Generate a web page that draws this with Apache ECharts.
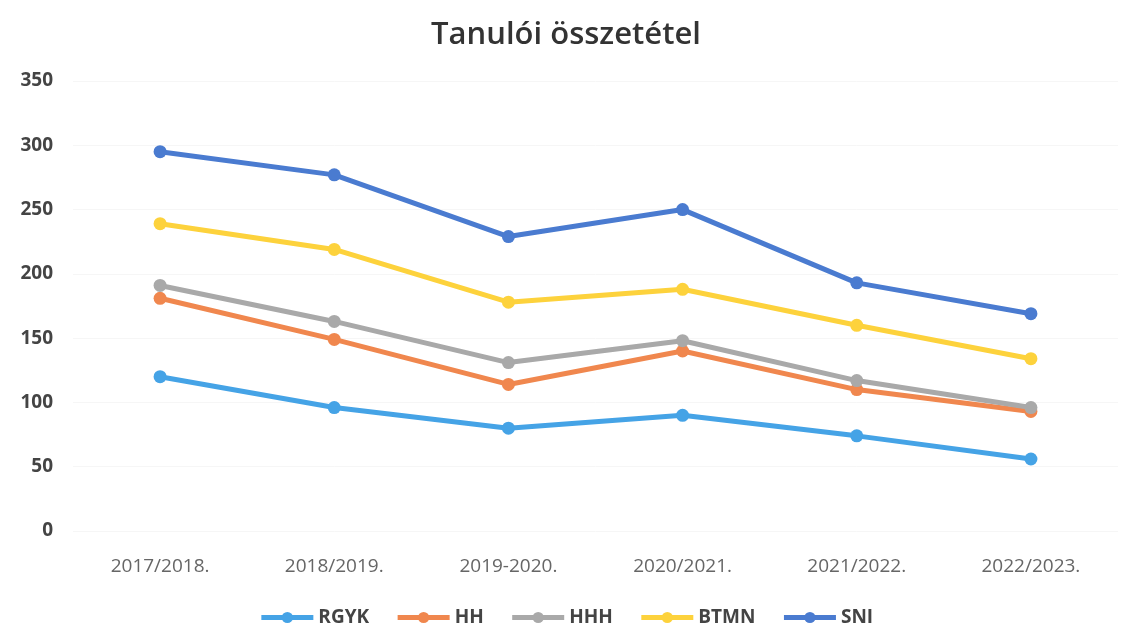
<!DOCTYPE html>
<html><head><meta charset="utf-8">
<script src="https://cdn.jsdelivr.net/npm/echarts@6/dist/echarts.min.js"></script>
<style>html,body{margin:0;padding:0;background:#fff}#c{width:1132px;height:627px}</style>
</head><body><div id="c"></div>
<script>
const categories = ['2017/2018.', '2018/2019.', '2019-2020.', '2020/2021.', '2021/2022.', '2022/2023.'];
const seriesNames = ['RGYK', 'HH', 'HHH', 'BTMN', 'SNI'];
const RGYK = [120, 96, 80, 90, 74, 56];
const HH = [181, 149, 114, 140, 110, 93];
const HHH = [191, 163, 131, 148, 117, 96];
const BTMN = [239, 219, 178, 188, 160, 134];
const SNI = [295, 277, 229, 250, 193, 169];
const colors = ['#45a3e6', '#f0874e', '#a9a9a9', '#fdd23c', '#4a7bd0'];
const data = [RGYK, HH, HHH, BTMN, SNI];

const chart = echarts.init(document.getElementById('c'));
chart.setOption({
  animation: false,
  title: { text: 'Tanulói összetétel', left: 'center', top: 15,
    textStyle: { fontFamily: 'Open Sans', fontSize: 31, fontWeight: 600, color: '#333' } },
  grid: { left: 73, right: 14, top: 81, bottom: 96 },
  legend: { top: 603, left: 'center', itemWidth: 52, itemHeight: 14, itemGap: 26,
    lineStyle: { width: 5 },
    textStyle: { fontFamily: 'Open Sans', fontSize: 19, fontWeight: 'bold', color: '#444' },
    data: seriesNames },
  xAxis: { type: 'category', data: categories, boundaryGap: true,
    axisLine: { show: false }, axisTick: { show: false },
    axisLabel: { margin: 26, fontFamily: 'Open Sans', fontSize: 19, color: '#666' } },
  yAxis: { type: 'value', min: 0, max: 350, interval: 50,
    axisLabel: { margin: 20, fontFamily: 'Open Sans', fontSize: 19, fontWeight: 'bold', color: '#444' },
    splitLine: { lineStyle: { color: '#f6f6f6' } } },
  series: seriesNames.map((n, i) => ({
    name: n, type: 'line', data: data[i], symbol: 'circle', symbolSize: 13,
    lineStyle: { width: 5, color: colors[i] }, itemStyle: { color: colors[i] }
  }))
});
</script></body></html>
